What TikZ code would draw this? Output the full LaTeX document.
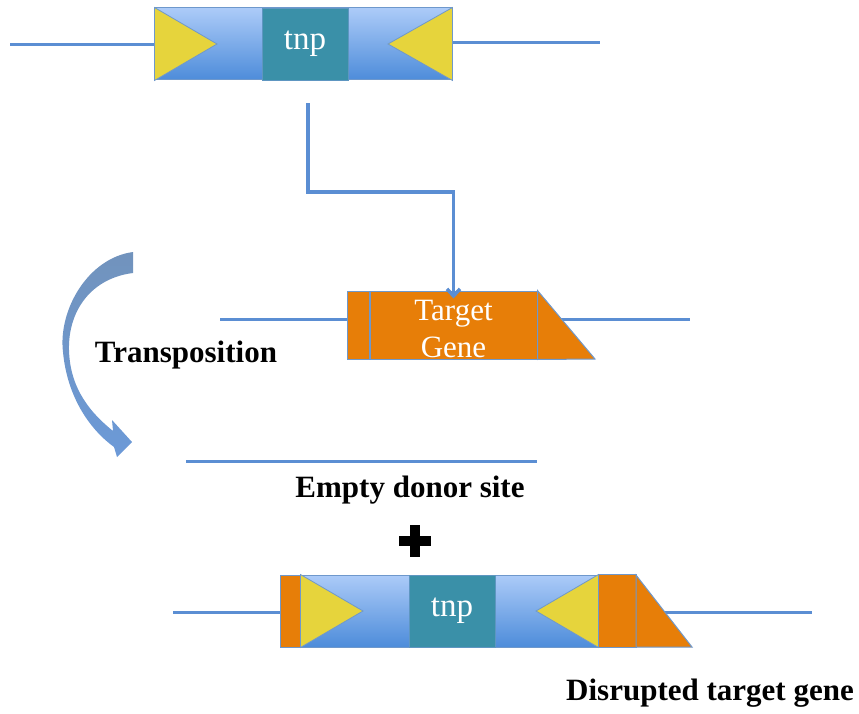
\documentclass[tikz,border=0pt]{standalone}
\usepackage{fontspec}
\setmainfont{Liberation Serif}
\usetikzlibrary{arrows.meta,calc}
\definecolor{dna}{HTML}{5B8ED3}
\definecolor{orng}{HTML}{E77E08}
\definecolor{yel}{HTML}{E6D43C}
\definecolor{teal2}{HTML}{3A90A8}
\definecolor{bltop}{HTML}{ACCBF8}
\definecolor{blbot}{HTML}{4D8CDA}
\definecolor{edge}{HTML}{6E98CC}
\tikzset{
  strand/.style={draw=dna,line width=3pt},
  tnpbody/.style={draw=edge,line width=1pt,top color=bltop,bottom color=blbot,
    minimum width=297pt,minimum height=72pt,inner sep=0pt},
  tnpcore/.style={draw=edge!70!teal2,line width=0.8pt,fill=teal2,minimum width=86pt,
    minimum height=72pt,inner sep=0pt,text=white,font=\fontsize{33}{36}\selectfont},
  ir/.style={fill=yel,draw=edge,line width=0.8pt},
  orangepart/.style={fill=orng,draw=edge,line width=1pt},
  genebox/.style={orangepart,minimum width=167pt,minimum height=68pt,inner sep=0pt,
    text=white,align=center,font=\fontsize{31}{37}\selectfont},
  caption/.style={font=\bfseries\fontsize{31}{34}\selectfont,inner sep=0pt},
  link/.style={draw=dna,line width=3.5pt},
}
\begin{document}
\begin{tikzpicture}[x=1pt,y=-1pt]
\useasboundingbox (0,0) rectangle (859,714);

% donor transposon
\draw[strand] (10,45) -- (155,45);
\draw[strand] (452,43) -- (600,43);
\node[tnpbody] (don) at (303.5,44) {};
\fill[ir] (don.north west) -- (don.south west) -- (217,44) -- cycle;
\fill[ir] (don.north east) -- (don.south east) -- (388,44) -- cycle;
\node[tnpcore] (tnp1) at (305,44) {tnp};

% target gene
\draw[strand] (220,319) -- (347,319);
\draw[strand] (537,319) -- (690,319);
\node[genebox] (gene) at (453.5,325) {};
\node[text=white,align=center,font=\fontsize{31}{37}\selectfont,inner sep=0pt]
  (genelabel) at (453.5,329) {Target\\Gene};
\filldraw[orangepart] (347,291) rectangle (gene.south west);
\filldraw[orangepart] (gene.north east) -- (595,359) -- (gene.south east) -- cycle;

% insertion path
\coordinate (start) at ($(tnp1.south)+(3,23)$);
\draw[link,-{Straight Barb[length=7pt,width=13pt]}]
  (start) -- (308,192) -| ([yshift=-8pt]gene.north);

% curved arrow
\shade[top color=edge!80!gray, bottom color=dna!90!white, draw=none]
  (133,252) .. controls (88,258) and (58,310) .. (63,352)
  .. controls (67,395) and (88,428) .. (114,447)
  -- (117,457) -- (132,442) -- (112,420) -- (113,431)
  .. controls (92,414) and (70,390) .. (69,350)
  .. controls (68,310) and (92,278) .. (133,273) -- cycle;
\node[caption] (trans) at (186,355) {Transposition};

% empty donor site
\draw[strand] (186,461) -- (537,461);
\node[caption] (empty) at (410,490) {Empty donor site};

% plus sign
\fill (399,536) rectangle (431,546);
\fill (410,525) rectangle (420,557);

% disrupted target gene
\draw[strand] (173,612) -- (812,612);
\node[tnpbody] (ins) at (449.5,611) {};
\fill[ir] (ins.north west) -- (ins.south west) -- (363,611) -- cycle;
\fill[ir] (ins.north east) -- (ins.south east) -- (536,611) -- cycle;
\node[tnpcore] (tnp2) at (452,611) {tnp};
\filldraw[orangepart] (280,575) rectangle (ins.south west);
\filldraw[orangepart] (ins.north east) rectangle (636,647);
\filldraw[orangepart] (636,575) -- (692,647) -- (636,647) -- cycle;
\node[caption] (disr) at (710,693) {Disrupted target gene};
\end{tikzpicture}
\end{document}
